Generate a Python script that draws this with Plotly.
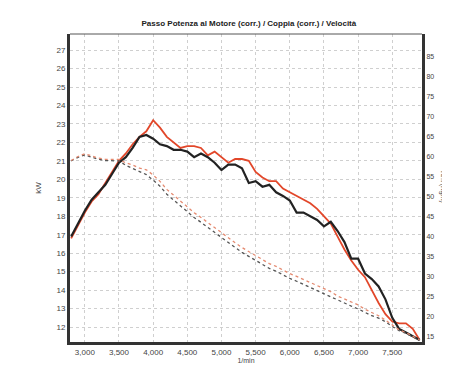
import plotly.graph_objects as go

rpm = [2800, 2900, 3000, 3100, 3200, 3300, 3400, 3500, 3600, 3700, 3800, 3900,
       4000, 4100, 4200, 4300, 4400, 4500, 4600, 4700, 4800, 4900, 5000, 5100,
       5200, 5300, 5400, 5500, 5600, 5700, 5800, 5900, 6000, 6100, 6200, 6300,
       6400, 6500, 6600, 6700, 6800, 6900, 7000, 7100, 7200, 7300, 7400, 7500,
       7600, 7700, 7800, 7900]

power_black = [16.9, 17.6, 18.3, 18.9, 19.3, 19.7, 20.3, 20.9, 21.2, 21.7, 22.3, 22.4,
               22.2, 21.9, 21.8, 21.6, 21.6, 21.5, 21.2, 21.4, 21.2, 20.9, 20.5, 20.8,
               20.8, 20.6, 19.8, 19.9, 19.6, 19.7, 19.3, 19.1, 18.85, 18.2, 18.2, 18.0,
               17.8, 17.45, 17.7, 17.2, 16.6, 15.7, 15.7, 14.9, 14.6, 14.2, 13.5, 12.5,
               11.9, 11.7, 11.5, 11.3]

power_red = [16.8, 17.5, 18.2, 18.8, 19.2, 19.8, 20.4, 21.0, 21.4, 21.9, 22.3, 22.6,
             23.2, 22.8, 22.3, 22.0, 21.7, 21.8, 21.8, 21.7, 21.3, 21.5, 21.2, 20.9,
             21.1, 21.1, 21.0, 20.4, 20.1, 19.9, 19.9, 19.5, 19.3, 19.1, 18.9, 18.7,
             18.4, 18.0, 17.6, 16.9, 16.2, 15.6, 15.1, 14.7, 14.0, 13.3, 12.7, 12.3,
             12.2, 12.2, 11.9, 11.3]

torque_black = [58.9, 59.8, 60.4, 59.8, 59.3, 59.0, 59.0, 58.9, 57.8, 57.0, 56.1, 55.5,
                54.1, 52.6, 50.6, 49.1, 47.6, 46.1, 44.8, 43.6, 42.3, 41.1, 39.8, 38.6,
                37.3, 36.1, 35.1, 34.1, 33.1, 32.1, 31.4, 30.4, 29.6, 28.9, 28.1, 27.4,
                26.6, 25.9, 25.1, 24.2, 23.5, 22.7, 22.0, 21.1, 20.3, 19.7, 18.8, 17.6,
                16.6, 15.9, 15.0, 14.2]

torque_red = [59.0, 60.0, 60.7, 60.1, 59.6, 59.3, 59.3, 59.3, 58.4, 57.9, 57.1, 56.7,
              55.4, 53.8, 51.8, 50.3, 48.8, 47.3, 46.0, 44.8, 43.5, 42.3, 41.0, 39.8,
              38.5, 37.3, 36.3, 35.3, 34.3, 33.3, 32.6, 31.6, 30.8, 30.1, 29.3, 28.6,
              27.8, 27.1, 26.3, 25.2, 24.5, 23.7, 23.0, 21.9, 21.1, 20.3, 19.2, 17.9,
              16.8, 16.1, 15.1, 14.3]

x_ticks = [3000, 3500, 4000, 4500, 5000, 5500, 6000, 6500, 7000, 7500]
x_tick_labels = ["3,000", "3,500", "4,000", "4,500", "5,000", "5,500", "6,000",
                 "6,500", "7,000", "7,500"]
kw_ticks = list(range(12, 28))
nm_ticks = list(range(15, 90, 5))

RED = "#e2472a"
BLACK = "#222222"
FONT = "Liberation Sans"

fig = go.Figure()
fig.add_trace(go.Scatter(x=rpm, y=torque_black, mode="lines", yaxis="y2",
                         line=dict(color="#555555", width=1.3, dash="dot"),
                         showlegend=False))
fig.add_trace(go.Scatter(x=rpm, y=torque_red, mode="lines", yaxis="y2",
                         line=dict(color="#e58a70", width=1.3, dash="dot"),
                         showlegend=False))
fig.add_trace(go.Scatter(x=rpm, y=power_red, mode="lines",
                         line=dict(color=RED, width=1.8), showlegend=False))
fig.add_trace(go.Scatter(x=rpm, y=power_black, mode="lines",
                         line=dict(color=BLACK, width=2.2), showlegend=False))

grid = dict(showgrid=True, gridcolor="#cfcfcf", griddash="dot", gridwidth=1)

fig.update_layout(
    width=442, height=367,
    margin=dict(l=62, r=28, t=26, b=33),
    paper_bgcolor="white", plot_bgcolor="white",
    font=dict(family=FONT, size=8, color="#333"),
    title=dict(text="<b>Passo Potenza al Motore (corr.) / Coppia (corr.) / Velocità</b>",
               x=0.545, xanchor="center", y=0.958, yanchor="middle",
               font=dict(size=8, color="#222", family=FONT)),
    xaxis=dict(range=[2783, 7935], tickvals=x_ticks, ticktext=x_tick_labels,
               showline=True, linecolor="#333", linewidth=3, zeroline=False,
               ticks="", tickfont=dict(size=8, color="#444"),
               title=dict(text="1/min", font=dict(size=7, color="#444"), standoff=2),
               **grid),
    yaxis=dict(range=[11.19, 27.87], tickvals=kw_ticks, showline=True,
               linecolor="#333", linewidth=3, zeroline=False, ticks="",
               tickfont=dict(size=8, color="#444"),
               title=dict(text="kW", font=dict(size=8, color="#444"), standoff=14),
               **grid),
    yaxis2=dict(range=[13.75, 90.55], tickvals=nm_ticks, overlaying="y",
                side="right", showline=True, linecolor="#333", linewidth=3,
                showgrid=False, zeroline=False, ticks="",
                tickfont=dict(size=7, color="#444")),
    shapes=[dict(type="line", xref="paper", yref="paper", x0=0, x1=1, y0=1, y1=1,
                 line=dict(color="#555", width=1))],
    annotations=[dict(text="Nm (Kgm)", xref="paper", yref="paper", x=1.06, y=0.503,
                      showarrow=False, textangle=90, xanchor="center", yanchor="middle",
                      font=dict(size=7, color="#444", family=FONT))],
)

fig.write_html("out.html")
